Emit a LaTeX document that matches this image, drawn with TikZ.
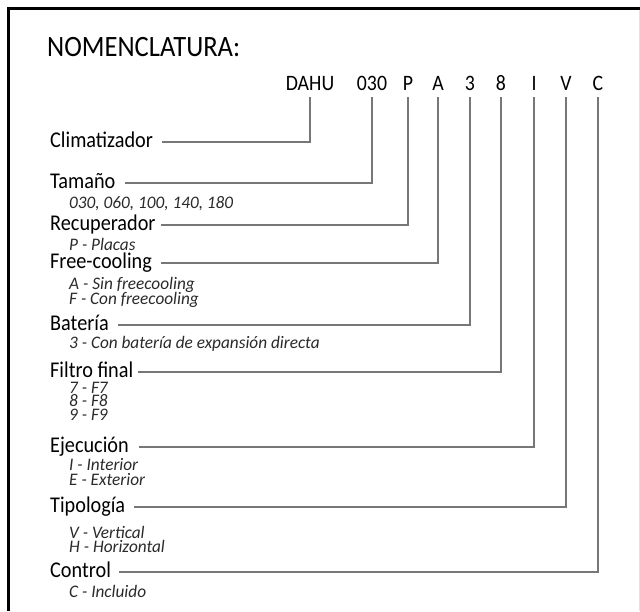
\documentclass[tikz,border=0pt]{standalone}
\usepackage{fontspec}
\setmainfont{Carlito}[FakeStretch=0.9]
\newfontfamily\itfont{Carlito}[FakeStretch=0.98]
\definecolor{linegray}{HTML}{777777}
\definecolor{framegray}{HTML}{E2E2E2}
\definecolor{subgray}{HTML}{2A2A2A}
\begin{document}
\begin{tikzpicture}[x=1pt,y=-1pt,
  title/.style={anchor=base west,inner sep=0pt,font=\fontsize{29.5}{30}\selectfont},
  code/.style={anchor=base,inner sep=0pt,text depth=0pt,font=\fontsize{22}{23}\selectfont},
  lbl/.style={anchor=base west,inner sep=0pt,text height=10pt,text depth=0pt,font=\fontsize{22.5}{23}\selectfont},
  sub/.style={anchor=base west,inner sep=0pt,text=subgray,font=\itfont\itshape\fontsize{17.6}{18}\selectfont},
  conn/.style={draw=linegray,line width=1.4pt},
  frame/.style={draw=black,line width=3pt}]
\useasboundingbox (0,0) rectangle (640,611);
% frame
\draw[frame] (8.5,611) -- (8.5,8.5) -- (640,8.5);
\draw[draw=framegray,line width=1pt] (639.5,10) -- (639.5,611);
% title
\node[title] (title) at (47,56) {NOMENCLATURA:};
% code row
\node[code] (dahu) at (310,90) {DAHU};
\node[code] (size) at (372,90) {030};
\node[code] (cp) at (408,90) {P};
\node[code] (ca) at (438,90) {A};
\node[code] (c3) at (470,90) {3};
\node[code] (c8) at (501,90) {8};
\node[code] (ci) at (534,90) {I};
\node[code] (cv) at (566,90) {V};
\node[code] (cc) at (598,90) {C};
% labels
\node[lbl] (l1) at (50,147) {Climatizador};
\node[lbl] (l2) at (50,188) {Tamaño};
\node[lbl] (l3) at (50,230) {Recuperador};
\node[lbl] (l4) at (50,268) {Free-cooling};
\node[lbl] (l5) at (50,330) {Batería};
\node[lbl] (l6) at (50,377) {Filtro final};
\node[lbl] (l7) at (50,452) {Ejecución};
\node[lbl] (l8) at (50,512) {Tipología};
\node[lbl] (l9) at (50,577) {Control};
% sub items
\node[sub] (s2) at (69,208) {030, 060, 100, 140, 180};
\node[sub] (s3) at (69,250) {P - Placas};
\node[sub] (s4a) at (69,289.5) {A - Sin freecooling};
\node[sub] (s4b) at (69,304.5) {F - Con freecooling};
\node[sub] (s5) at (69,348) {3 - Con batería de expansión directa};
\node[sub] (s6a) at (69,393) {7 - F7};
\node[sub] (s6b) at (69,406.5) {8 - F8};
\node[sub] (s6c) at (69,420) {9 - F9};
\node[sub] (s7a) at (69,470.5) {I - Interior};
\node[sub] (s7b) at (69,485.5) {E - Exterior};
\node[sub] (s8a) at (69,538) {V - Vertical};
\node[sub] (s8b) at (69,552.5) {H - Horizontal};
\node[sub] (s9) at (69,597) {C - Incluido};
% connectors
\draw[conn] ([xshift=9pt]l1.east) -| ([yshift=-7pt]dahu.south);
\draw[conn] ([xshift=9pt]l2.east) -| ([yshift=-7pt]size.south);
\draw[conn] ([xshift=5pt]l3.east) -| ([yshift=-7pt]cp.south);
\draw[conn] ([xshift=9pt]l4.east) -| ([yshift=-7pt]ca.south);
\draw[conn] ([xshift=9pt]l5.east) -| ([yshift=-7pt]c3.south);
\draw[conn] ([xshift=5pt]l6.east) -| ([yshift=-7pt]c8.south);
\draw[conn] ([xshift=10pt]l7.east) -| ([yshift=-7pt]ci.south);
\draw[conn] ([xshift=9pt]l8.east) -| ([yshift=-7pt]cv.south);
\draw[conn] ([xshift=8pt]l9.east) -| ([yshift=-7pt]cc.south);
\end{tikzpicture}
\end{document}
